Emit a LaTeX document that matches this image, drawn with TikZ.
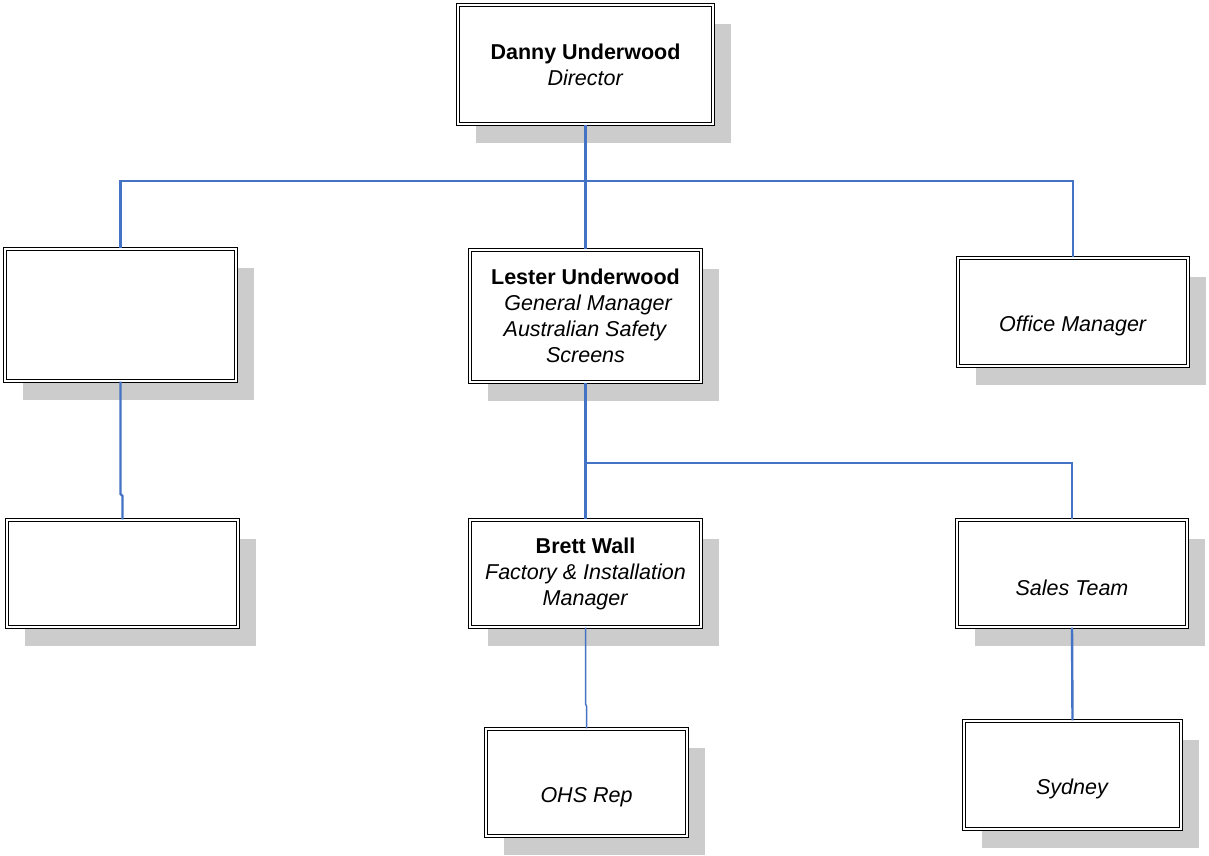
\documentclass[tikz,border=0pt]{standalone}
\usepackage{fontspec}
\setmainfont{Liberation Sans}
\usetikzlibrary{shadows}
\definecolor{linkblue}{RGB}{68,114,196}
\definecolor{shadowgray}{RGB}{204,204,204}
\tikzset{
  orgbox/.style={draw=black, line width=1.3pt, double=white, double distance=1.8pt,
    fill=white, inner sep=0pt, align=center,
    font=\fontsize{21.5}{26}\selectfont,
    drop shadow={shadow xshift=18pt, shadow yshift=-18.5pt, fill=shadowgray, opacity=1}},
  link/.style={draw=linkblue, line width=2.4pt},
  thinlink/.style={draw=linkblue, line width=1.5pt}
}
\begin{document}
\begin{tikzpicture}[x=1pt,y=-1pt]
\useasboundingbox (0,0) rectangle (1209,855);
% boxes
\node[orgbox, minimum width=255pt, minimum height=119pt] (d) at (585.5,64.5)
  {\textbf{Danny Underwood}\\\textit{Director}};
\node[orgbox, minimum width=231pt, minimum height=132pt] (lt) at (120.5,315) {};
\node[orgbox, minimum width=231pt, minimum height=107pt] (lb) at (122.5,573.5) {};
\node[orgbox, minimum width=231pt, minimum height=132pt] (l) at (585.5,316)
  {\textbf{Lester Underwood}\\\hspace*{6pt}\textit{General Manager}\\\textit{Australian Safety}\\\textit{Screens}};
\node[orgbox, minimum width=230pt, minimum height=108pt] (om) at (1073,312)
  {\strut\\\textit{Office Manager}};
\node[orgbox, minimum width=231pt, minimum height=107pt] (br) at (585.5,573.5)
  {\textbf{Brett Wall}\\\textit{Factory \& Installation}\\\textit{Manager}};
\node[orgbox, minimum width=230pt, minimum height=107pt] (sa) at (1072,573.5)
  {\strut\\\textit{Sales Team}};
\node[orgbox, minimum width=201pt, minimum height=107pt] (ohs) at (586.5,782.5)
  {\strut\\\textit{OHS Rep}};
\node[orgbox, minimum width=217pt, minimum height=108pt] (sy) at (1072.5,775)
  {\strut\\\textit{Sydney}};
% bus coordinates
\coordinate (bus1) at (585,181);
\coordinate (bus2) at (585,463);
% connectors
\draw[link] (d.south) -- (l.north);
\draw[link] (lt.north) -- (lt.north |- bus1) -- (om.north |- bus1) -- (om.north);
\draw[link] (l.south) -- (br.north);
\draw[link] (br.north |- bus2) -- (sa.north |- bus2) -- (sa.north);
\draw[link] (lt.south) -- (lt.south |- 0,494) -- (lb.north |- 0,496) -- (lb.north);
\draw[thinlink] (br.south) -- (br.south |- 0,704) -- (ohs.north |- 0,706) -- (ohs.north);
\draw[link] (sa.south) -- (sy.north);
\end{tikzpicture}
\end{document}
